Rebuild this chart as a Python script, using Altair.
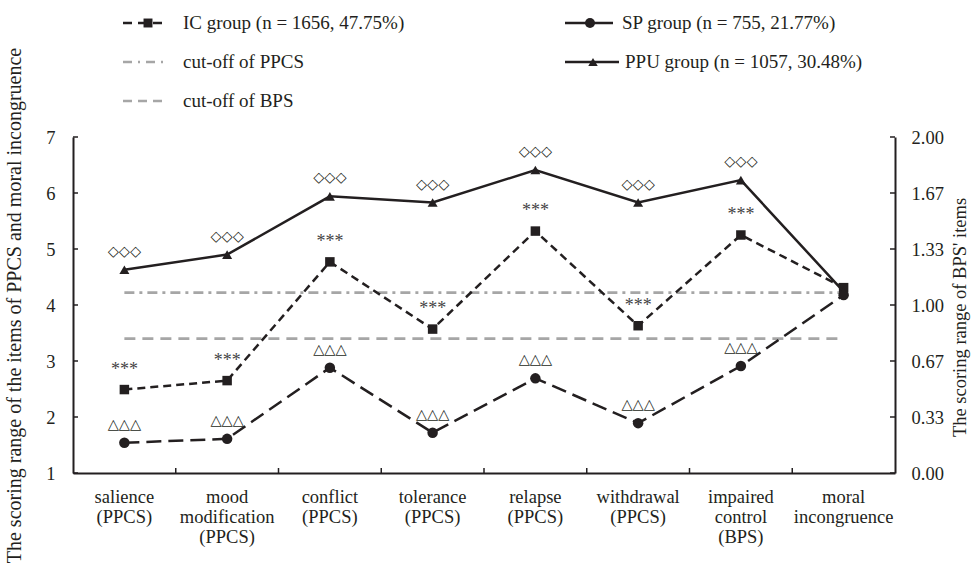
import altair as alt
import pandas as pd

# ---- data -------------------------------------------------------------
categories = [
    "salience|(PPCS)",
    "mood|modification|(PPCS)",
    "conflict|(PPCS)",
    "tolerance|(PPCS)",
    "relapse|(PPCS)",
    "withdrawal|(PPCS)",
    "impaired|control|(BPS)",
    "moral|incongruence",
]
ic_scores = [2.49, 2.65, 4.77, 3.57, 5.32, 3.63, 5.25, 4.31]
sp_scores = [1.54, 1.61, 2.88, 1.72, 2.69, 1.89, 2.91, 4.18]
ppu_scores = [4.63, 4.90, 5.94, 5.83, 6.41, 5.83, 6.23, 4.24]
ic_marks = ["***"] * 7 + [""]
sp_marks = ["\u25b3\u25b3\u25b3"] * 7 + [""]
ppu_marks = ["\u25c7\u25c7\u25c7"] * 7 + [""]
cutoff_ppcs = 4.22
cutoff_bps = 3.40
left_ticks = [1, 2, 3, 4, 5, 6, 7]
right_ticks = [0, 1 / 3, 2 / 3, 1, 4 / 3, 5 / 3, 2]

ic_label = "IC group (n = 1656, 47.75%)"
sp_label = "SP group (n = 755, 21.77%)"
ppu_label = "PPU group (n = 1057, 30.48%)"
ppcs_label = "cut-off of PPCS"
bps_label = "cut-off of BPS"

# ---- styling ----------------------------------------------------------
W, H = 822, 336
INK = "#231f20"
GREY = "#a6a6a6"
SERIF = "Liberation Serif"
SYMBOL_FONT = "DejaVu Sans"
TICK_FS = 18.5
LEGEND_FS = 19

ic_dash = [8, 5]
sp_dash = [15, 7]
ppcs_dash = [10, 5, 3, 5]
bps_dash = [11, 7]

x_scale = alt.Scale(domain=categories, type="band", paddingInner=0, paddingOuter=0)
y_scale = alt.Scale(domain=[1, 7], nice=False, zero=False)

x_axis = alt.Axis(
    title=None,
    labelAngle=0,
    labelExpr="split(datum.label, '|')",
    labelFont=SERIF,
    labelFontSize=TICK_FS,
    labelColor=INK,
    labelLineHeight=20,
    labelBaseline="top",
    labelPadding=14,
    tickSize=0,
    domainColor=INK,
    domainWidth=2,
    grid=False,
)
x_enc = alt.X("cat:N", scale=x_scale, sort=categories, axis=x_axis)
y_enc_left = alt.Y(
    "val:Q",
    scale=y_scale,
    axis=alt.Axis(
        title="The scoring range of the items of PPCS and moral incongruence",
        titleFont=SERIF,
        titleFontSize=20,
        titleFontWeight="normal",
        titleColor=INK,
        titlePadding=21,
        values=left_ticks,
        format="d",
        labelFont=SERIF,
        labelFontSize=TICK_FS,
        labelColor=INK,
        labelPadding=18,
        tickSize=0,
        domainColor=INK,
        domainWidth=2,
        grid=False,
    ),
)


def series_frame(values, marks):
    return pd.DataFrame({"cat": categories, "val": values, "mark": marks})


ic_df = series_frame(ic_scores, ic_marks)
sp_df = series_frame(sp_scores, sp_marks)
ppu_df = series_frame(ppu_scores, ppu_marks)


def series_layers(df, dash, shape, size, mark_font, mark_size, mark_dy, mark_color):
    base = alt.Chart(df).encode(x=x_enc, y=y_enc_left)
    line_kw = dict(color=INK, strokeWidth=2.5)
    if dash:
        line_kw["strokeDash"] = dash
    line = base.mark_line(**line_kw)
    pts = base.mark_point(filled=True, shape=shape, size=size, color=INK, opacity=1)
    txt = base.mark_text(
        font=mark_font, fontSize=mark_size, dy=mark_dy, color=mark_color, baseline="middle"
    ).encode(text="mark:N")
    return [line, pts, txt]


# cut-off reference lines, spanning first to last category
cut_df = pd.DataFrame(
    {
        "cat": [categories[0], categories[-1], categories[0], categories[-1]],
        "val": [cutoff_ppcs, cutoff_ppcs, cutoff_bps, cutoff_bps],
        "which": ["ppcs", "ppcs", "bps", "bps"],
    }
)
cut_ppcs = (
    alt.Chart(cut_df)
    .transform_filter(alt.datum.which == "ppcs")
    .mark_line(color=GREY, strokeWidth=2.8, strokeDash=ppcs_dash)
    .encode(x=x_enc, y=y_enc_left)
)
cut_bps = (
    alt.Chart(cut_df)
    .transform_filter(alt.datum.which == "bps")
    .mark_line(color=GREY, strokeWidth=2.8, strokeDash=bps_dash)
    .encode(x=x_enc, y=y_enc_left)
)

# inward tick marks on the left and bottom axes
left_tick_df = pd.DataFrame({"val": left_ticks})
left_tick_layer = (
    alt.Chart(left_tick_df)
    .mark_rule(color=INK, strokeWidth=1.5)
    .encode(y=y_enc_left, x=alt.value(0), x2=alt.value(5))
)
x_tick_df = pd.DataFrame({"cat": categories[1:]})
x_tick_layer = (
    alt.Chart(x_tick_df)
    .mark_rule(color=INK, strokeWidth=1.5)
    .encode(
        x=alt.X("cat:N", scale=x_scale, sort=categories, bandPosition=0, axis=x_axis),
        y=alt.value(H),
        y2=alt.value(H - 5),
    )
)

one = alt.Data(values=[{}])


def legend_line(x1, x2, y, color, dash=None):
    kw = dict(color=color, strokeWidth=2.6)
    if dash:
        kw["strokeDash"] = dash
    return alt.Chart(one).mark_rule(**kw).encode(
        x=alt.value(x1), x2=alt.value(x2), y=alt.value(y)
    )


def legend_marker(x, y, shape, size):
    return alt.Chart(one).mark_point(filled=True, shape=shape, size=size, color=INK, opacity=1).encode(
        x=alt.value(x), y=alt.value(y)
    )


def legend_text(x, y, label):
    return alt.Chart(one).mark_text(
        font=SERIF, fontSize=LEGEND_FS, color=INK, align="left", baseline="middle"
    ).encode(x=alt.value(x), y=alt.value(y), text=alt.value(label))


row1, row2, row3 = -114, -75, -36
legend = [
    legend_line(50, 95, row1, INK, [9, 6]),
    legend_marker(75, row1, "square", 80),
    legend_text(110, row1, ic_label),
    legend_line(50, 95, row2, GREY, [9, 6, 2, 6]),
    legend_text(110, row2, ppcs_label),
    legend_line(50, 95, row3, GREY, [9, 6]),
    legend_text(110, row3, bps_label),
    legend_line(492, 540, row1, INK),
    legend_marker(517, row1, "circle", 100),
    legend_text(549, row1, sp_label),
    legend_line(492, 546, row2, INK),
    legend_marker(520, row2, "triangle-up", 90),
    legend_text(552, row2, ppu_label),
]

inner = alt.layer(
    cut_ppcs,
    cut_bps,
    *series_layers(sp_df, sp_dash, "circle", 110, SYMBOL_FONT, 14.5, -18, INK),
    *series_layers(ic_df, ic_dash, "square", 90, SERIF, 18, -20, "#444444"),
    *series_layers(ppu_df, None, "triangle-up", 100, SYMBOL_FONT, 14.5, -18, INK),
    left_tick_layer,
    x_tick_layer,
    *legend,
)

# secondary axis for the BPS items (0-2)
right_df = pd.DataFrame({"bps": right_ticks})
right_layer = (
    alt.Chart(right_df)
    .mark_rule(color=INK, strokeWidth=1.5)
    .encode(
        y=alt.Y(
            "bps:Q",
            scale=alt.Scale(domain=[0, 2], nice=False),
            axis=alt.Axis(
                orient="right",
                title="The scoring range of BPS' items",
                titleFont=SERIF,
                titleFontSize=18.5,
                titleFontWeight="normal",
                titleColor=INK,
                titleAngle=270,
                titlePadding=26,
                titleY=180,
                values=right_ticks,
                format=".2f",
                labelFont=SERIF,
                labelFontSize=TICK_FS,
                labelColor=INK,
                labelPadding=16,
                tickSize=0,
                domainColor=INK,
                domainWidth=2,
                grid=False,
            ),
        ),
        x=alt.value(W),
        x2=alt.value(W - 5),
    )
)

chart = (
    alt.layer(inner, right_layer)
    .resolve_scale(y="independent")
    .properties(
        width=W,
        height=H,
        autosize=alt.AutoSizeParams(type="none"),
        padding={"left": 73, "top": 137, "right": 76, "bottom": 95},
        background="white",
    )
    .configure_view(stroke=None)
)

chart.save("out.html", embed_options={"renderer": "svg", "actions": False})
